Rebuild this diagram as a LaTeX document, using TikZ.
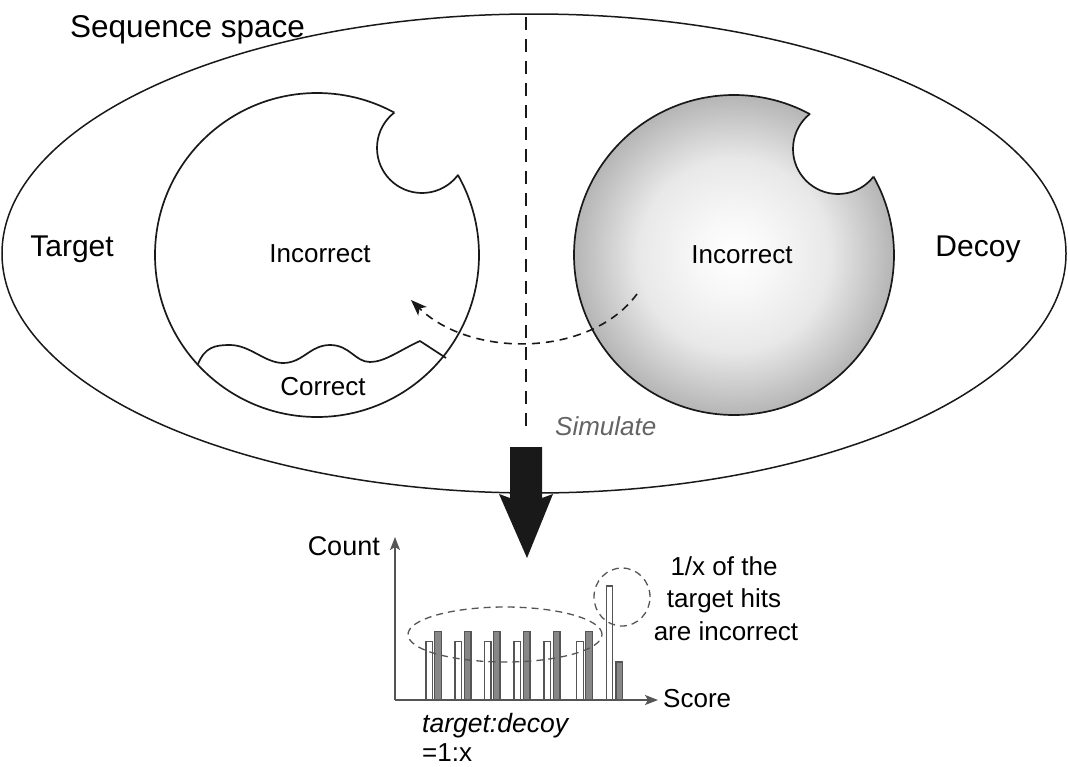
\documentclass[tikz,border=0pt]{standalone}
\usepackage{fontspec}
\setmainfont{Liberation Sans}
\usetikzlibrary{arrows.meta}
\definecolor{ink}{RGB}{25,25,25}
\definecolor{axisgray}{RGB}{85,85,85}
\definecolor{bargray}{RGB}{135,135,135}
\definecolor{simgray}{RGB}{100,100,100}
\pgfdeclareradialshading{decoyshade}{\pgfpoint{0bp}{0bp}}{%
  color(0bp)=(white); color(6bp)=(white!97!black); color(15bp)=(black!9);
  color(25bp)=(black!29); color(50bp)=(black!29)}
\begin{document}
\begin{tikzpicture}[x=1pt,y=-1pt,
  lbl/.style={inner sep=0pt, anchor=base, font=\fontsize{26}{31}\selectfont},
  biglbl/.style={inner sep=0pt, anchor=base, font=\fontsize{30}{36}\selectfont},
  rim/.style={line width=1.7pt, draw=ink},
  dashline/.style={line width=1.8pt, draw=ink, dash pattern=on 13pt off 9pt},
  curvedash/.style={line width=1.6pt, draw=ink, dash pattern=on 8pt off 6pt},
  ringdash/.style={line width=1.3pt, draw=axisgray, dash pattern=on 7pt off 5pt},
  axisline/.style={line width=1.5pt, draw=axisgray, -{Stealth[length=13pt,width=10pt,inset=3pt]}},
  wbar/.style={fill=white, draw=axisgray, line width=1.1pt},
  gbar/.style={fill=bargray, draw=axisgray, line width=1.1pt}]
\useasboundingbox (0,0) rectangle (1068,766);
\fill[white] (0,0) rectangle (1068,766);

% sequence space
\draw[line width=1.5pt, draw=ink] (534,253.5) ellipse [x radius=532pt, y radius=239.5pt];
\node[inner sep=0pt, anchor=base west, font=\fontsize{31.5}{36}\selectfont] (seq) at (70,37) {Sequence space};

% divider
\coordinate (divtop) at (526,17);
\coordinate (divbot) at (526,433);
\draw[dashline] (divtop) -- (divbot);

% target circle
\fill[white] (317,255) circle[radius=162pt];
\draw[rim] (317,255) circle[radius=162pt];
\fill[white] (422,148) circle[radius=45pt];
\begin{scope}
  \clip (317,255) circle[radius=162pt];
  \draw[rim] (422,148) circle[radius=45pt];
\end{scope}
\draw[rim, line join=round] (198,364) .. controls (205,347) and (215,345) .. (230,345)
  .. controls (250,345) and (265,363) .. (283,363)
  .. controls (303,363) and (310,345) .. (330,345)
  .. controls (350,345) and (355,362) .. (370,362)
  .. controls (385,362) and (400,350) .. (420,341) -- (446,358);

% decoy circle
\shade[shading=decoyshade] (734,255) circle[radius=160pt];
\draw[rim] (734,255) circle[radius=160pt];
\fill[white] (838,149) circle[radius=45pt];
\begin{scope}
  \clip (734,255) circle[radius=160pt];
  \draw[rim] (838,149) circle[radius=45pt];
\end{scope}

% simulate arrow
\coordinate (simfrom) at (637,294);
\coordinate (simto) at (411,300);
\draw[curvedash, -{Stealth[length=16pt,width=12pt,inset=4pt]}] (simfrom) .. controls (590,358) and (470,358) .. (simto);

% labels
\node[biglbl] (target) at (72,256) {Target};
\node[biglbl] (decoy) at (978,256) {Decoy};
\node[lbl] (incl) at (320,262) {Incorrect};
\node[lbl] (corr) at (323,395) {Correct};
\node[lbl] (incr) at (742,263) {Incorrect};
\node[lbl, anchor=base west, text=simgray, font=\fontsize{26}{31}\selectfont\itshape] (sim) at (555,435) {Simulate};

% big arrow
\fill[ink] (510,447) -- (542,447) -- (542,498) -- (553,494) -- (527,558) -- (499,494) -- (510,498) -- cycle;

% histogram
\foreach \a/\b in {426/434.7, 455/464.3, 484.3/493.3, 514/523.3, 544/553.3, 576.7/585.7} {
  \draw[wbar] (\a,700) rectangle ++(6.7,-58.3);
  \draw[gbar] (\b,700) rectangle ++(6.7,-68.3);
}
\draw[wbar] (606.7,700) rectangle (612.7,586);
\draw[gbar] (616,700) rectangle (622.7,662);
\coordinate (orig) at (395,700);
\coordinate (ytip) at (395,537);
\coordinate (xtip) at (658,700);
\draw[axisline] (orig) -- (ytip);
\draw[axisline] (orig) -- (xtip);
\draw[ringdash] (505,634.5) ellipse [x radius=97pt, y radius=27.5pt];
\draw[ringdash] (622,597) ellipse [x radius=28pt, y radius=29pt];

\node[lbl, anchor=base east, font=\fontsize{27}{31}\selectfont] (count) at (380,555) {Count};
\node[lbl, anchor=base west] (score) at (663,707) {Score};
\node[lbl] (l1) at (724,575) {1/x of the};
\node[lbl] (l2) at (724,607) {target hits};
\node[lbl] (l3) at (726,640) {are incorrect};
\node[lbl, anchor=base west, font=\fontsize{26.5}{31}\selectfont\itshape] (td) at (422,732) {target:decoy};
\node[lbl, anchor=base west] (ratio) at (422,761) {=1:x};
\end{tikzpicture}
\end{document}
